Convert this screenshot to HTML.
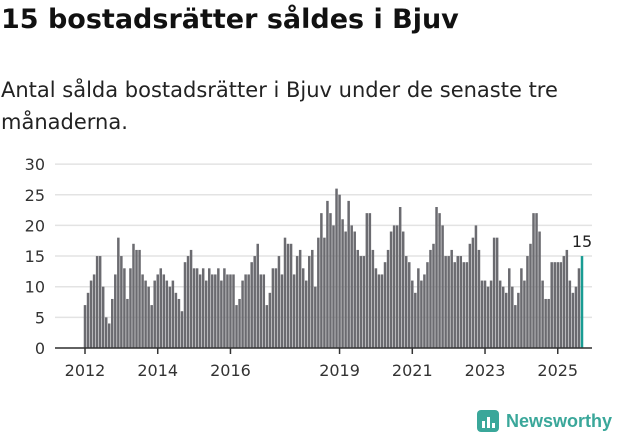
<!DOCTYPE html>
<html><head><meta charset="utf-8"><style>
body{margin:0;width:631px;height:439px;background:#fff;font-family:"DejaVu Sans","Liberation Sans",sans-serif;overflow:hidden;position:relative}
h1{position:absolute;left:1px;top:4px;margin:0;font-size:27px;font-weight:bold;color:#111}
.sub{position:absolute;left:1px;top:74px;font-size:21px;line-height:32px;color:#222;width:620px}
svg{position:absolute;left:0;top:0}
</style></head><body>
<h1>15 bostadsrätter såldes i Bjuv</h1>
<div class="sub">Antal sålda bostadsrätter i Bjuv under de senaste tre månaderna.</div>
<svg id="c" width="631" height="439"></svg>
<div style="position:absolute;left:476px;top:409px;display:flex;align-items:center">
<svg width="24" height="24" style="position:static"><rect x="1" y="1" width="22" height="22" rx="4" fill="#3aa79a"/><rect x="6" y="12" width="3" height="7" fill="#fff"/><rect x="11" y="8" width="3" height="11" fill="#fff"/><rect x="16" y="14" width="3" height="5" fill="#fff"/></svg>
<span style="margin-left:6px;font-size:18px;font-weight:bold;color:#3aa79a;font-family:'Liberation Sans',sans-serif">Newsworthy</span></div>
<script>
const values=[7,9,11,12,15,15,10,5,4,8,12,18,
15,13,8,13,17,16,16,12,11,10,7,11,
12,13,12,11,10,11,9,8,6,14,15,16,
13,13,12,13,11,13,12,12,13,11,13,12,
12,12,7,8,11,12,12,14,15,17,12,12,
7,9,13,13,15,12,18,17,17,12,15,16,
13,11,15,16,10,18,22,18,24,22,20,26,
25,21,19,24,20,19,16,15,15,22,22,16,
13,12,12,14,16,19,20,20,23,19,15,14,
11,9,13,11,12,14,16,17,23,22,20,15,
15,16,14,15,15,14,14,17,18,20,16,11,
11,10,11,18,18,11,10,9,13,10,7,9,
13,11,15,17,22,22,19,11,8,8,14,14,
14,14,15,16,11,9,10,13,15];
const yTicks=[0,5,10,15,20,25,30];
const xYears=[2012,2014,2016,2019,2021,2023,2025];
const NS="http://www.w3.org/2000/svg",svg=document.getElementById('c');
const y=v=>348-v*6.13;
const x=i=>85+i*((582-85)/(values.length-1));
function el(t,a){const e=document.createElementNS(NS,t);for(const k in a)e.setAttribute(k,a[k]);svg.appendChild(e);return e;}
yTicks.forEach(t=>{
 const g=el('line',{x1:55,x2:592,y1:y(t),y2:y(t),stroke:'#e3e3e3','stroke-width':1.5});
 
 
 const l=el('text',{x:45,y:y(t)+6,'text-anchor':'end','font-size':16,fill:'#333'});l.textContent=t;
 
 
});
values.forEach((v,i)=>{
 const last=i===values.length-1;
 const r=el('rect',{x:x(i)-1.25,y:y(v),width:2.5,height:348-y(v),fill:last?'#199c93':'#6b6b70'});
 
 
});
const li=values.length-1;
const lt=el('text',{x:x(li),y:y(values[li])-9,'text-anchor':'middle','font-size':16,fill:'#222'});lt.textContent=values[li];


const ax=el('line',{x1:55,x2:592,y1:348,y2:348,stroke:'#333','stroke-width':1.5});


xYears.forEach(yr=>{
 const xi=x((yr-2012)*12);
 const tk=el('line',{x1:xi,x2:xi,y1:348,y2:354,stroke:'#333','stroke-width':1.5});
 
 
 const t=el('text',{x:xi,y:376,'text-anchor':'middle','font-size':16,fill:'#333'});t.textContent=yr;
 
 
});
</script>
</body></html>
